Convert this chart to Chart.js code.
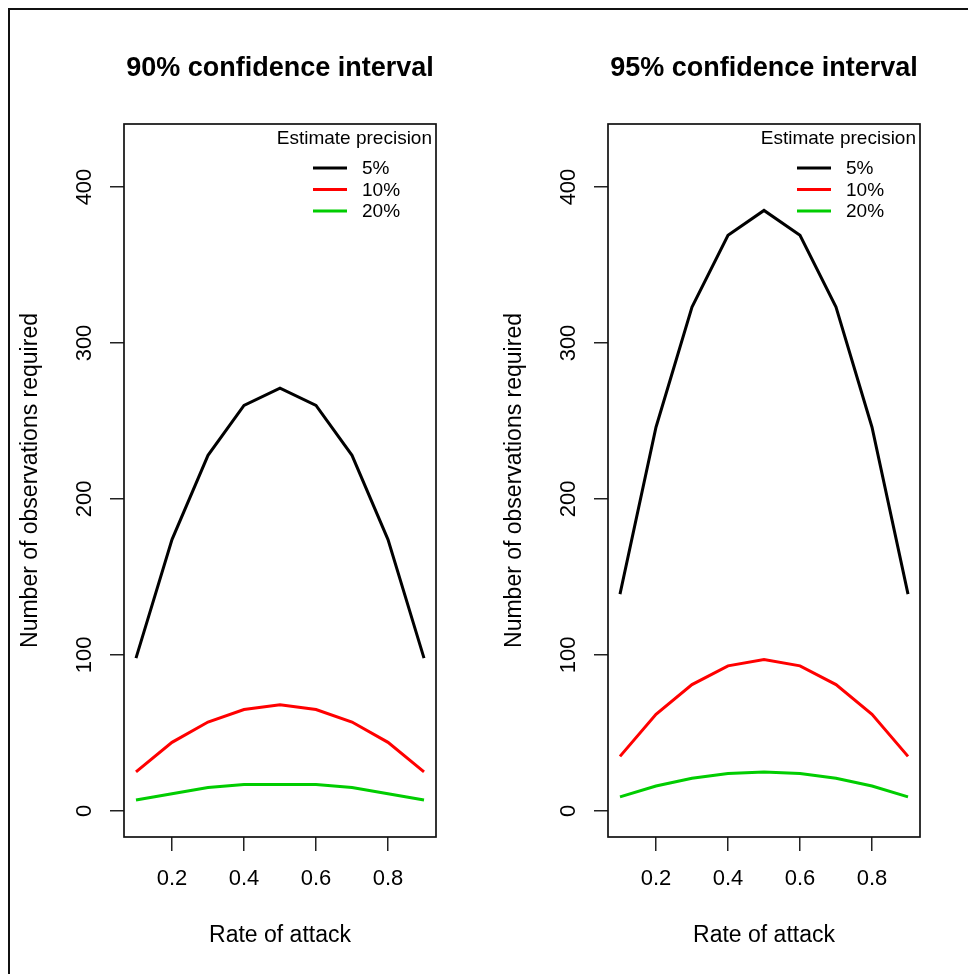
<!DOCTYPE html>
<html>
<head>
<meta charset="utf-8">
<title>Observations required by rate of attack</title>
<script src="https://cdn.jsdelivr.net/npm/chart.js@4.4.1/dist/chart.umd.min.js"></script>
<style>
  html, body { margin: 0; padding: 0; background: #fff; }
  #page { position: relative; width: 968px; height: 974px; overflow: hidden; }
  /* outer figure frame, cropped on the right and bottom */
  #frame { position: absolute; left: 8px; top: 8px; width: 2000px; height: 2000px; border: 2px solid #111; }
  canvas { position: absolute; top: 0; }
</style>
</head>
<body>
<div id="page">
  <div id="frame"></div>
  <canvas id="ci90" width="484" height="974" style="left:0"></canvas>
  <canvas id="ci95" width="484" height="974" style="left:484px"></canvas>
</div>
<script>
// data
const rates = [0.1, 0.2, 0.3, 0.4, 0.5, 0.6, 0.7, 0.8, 0.9];
const precisionLabels = ['5%', '10%', '20%'];
const lineColors = ['#000000', '#FF0000', '#00CD00'];

const n90p05 = [98, 174, 228, 260, 271, 260, 228, 174, 98];
const n90p10 = [25, 44, 57, 65, 68, 65, 57, 44, 25];
const n90p20 = [7, 11, 15, 17, 17, 17, 15, 11, 7];

const n95p05 = [139, 246, 323, 369, 385, 369, 323, 246, 139];
const n95p10 = [35, 62, 81, 93, 97, 93, 81, 62, 35];
const n95p20 = [9, 16, 21, 24, 25, 24, 21, 16, 9];

const xTicks = [0.2, 0.4, 0.6, 0.8];
const yTicks = [0, 100, 200, 300, 400];

const FONT = '"Liberation Sans", Arial, Helvetica, sans-serif';
Chart.defaults.font.family = FONT;
Chart.defaults.color = '#000';

// box, rotated y tick labels and the in-plot legend, R style
const rPlotExtras = {
  id: 'rPlotExtras',
  afterDatasetsDraw(chart) {
    const { ctx, chartArea: a, scales: { y } } = chart;
    ctx.save();
    ctx.strokeStyle = '#111';
    ctx.lineWidth = 1.7;
    ctx.strokeRect(a.left, a.top, a.right - a.left, a.bottom - a.top);

    ctx.fillStyle = '#000';
    ctx.font = '22px ' + FONT;
    ctx.textAlign = 'center';
    ctx.textBaseline = 'middle';
    y.ticks.forEach(t => {
      ctx.save();
      ctx.translate(85, y.getPixelForValue(t.value));
      ctx.rotate(-Math.PI / 2);
      ctx.fillText(String(t.value), 0, 0);
      ctx.restore();
    });

    ctx.font = '19px ' + FONT;
    ctx.textAlign = 'right';
    ctx.fillText('Estimate precision', a.right - 4, a.top + 15);
    ctx.textAlign = 'left';
    chart.data.datasets.forEach((ds, i) => {
      const yy = a.top + 44 + i * 21.5;
      ctx.strokeStyle = ds.borderColor;
      ctx.lineWidth = 3;
      ctx.beginPath();
      ctx.moveTo(a.right - 123, yy);
      ctx.lineTo(a.right - 89, yy);
      ctx.stroke();
      ctx.fillText(ds.label, a.right - 74, yy + 1);
    });
    ctx.restore();
  }
};

function makePanel(canvasId, titleText, seriesList) {
  const datasets = seriesList.map((vals, i) => ({
    label: precisionLabels[i],
    data: rates.map((r, j) => ({ x: r, y: vals[j] })),
    borderColor: lineColors[i],
    borderWidth: 3,
    pointRadius: 0,
    fill: false,
    tension: 0
  }));

  const axisGrid = { drawOnChartArea: false, drawTicks: true, tickLength: 14, color: '#222', lineWidth: 1.5 };

  return new Chart(document.getElementById(canvasId), {
    type: 'line',
    data: { datasets },
    options: {
      responsive: false,
      animation: false,
      devicePixelRatio: 1,
      layout: { padding: { left: 0, right: 48, top: 0, bottom: 0 } },
      plugins: {
        legend: { display: false },
        tooltip: { enabled: false },
        title: {
          display: true,
          text: titleText,
          fullSize: false,
          color: '#000',
          font: { size: 27, weight: 'bold' },
          padding: { top: 52, bottom: 39.6 }
        }
      },
      scales: {
        x: {
          type: 'linear',
          min: 0.0667,
          max: 0.9333,
          bounds: 'data',
          afterBuildTicks: s => { s.ticks = xTicks.map(v => ({ value: v })); },
          afterFit: s => { s.height = 137; },
          grid: axisGrid,
          border: { display: false },
          ticks: { color: '#000', font: { size: 22 }, padding: 15, maxRotation: 0, autoSkip: false,
                   callback: v => v.toFixed(1) },
          title: { display: true, text: 'Rate of attack', color: '#000', font: { size: 23 },
                   padding: { top: 0, bottom: 25 } }
        },
        y: {
          type: 'linear',
          min: -16.7,
          max: 440.4,
          bounds: 'data',
          afterBuildTicks: s => { s.ticks = yTicks.map(v => ({ value: v })); },
          afterFit: s => { s.width = 124; },
          grid: axisGrid,
          border: { display: false },
          ticks: { color: 'rgba(0,0,0,0)', font: { size: 22 } },
          title: { display: true, text: 'Number of observations required', color: '#000', font: { size: 23 },
                   padding: { top: 17, bottom: 0 } }
        }
      }
    },
    plugins: [rPlotExtras]
  });
}

makePanel('ci90', '90% confidence interval', [n90p05, n90p10, n90p20]);
makePanel('ci95', '95% confidence interval', [n95p05, n95p10, n95p20]);
</script>
</body>
</html>
